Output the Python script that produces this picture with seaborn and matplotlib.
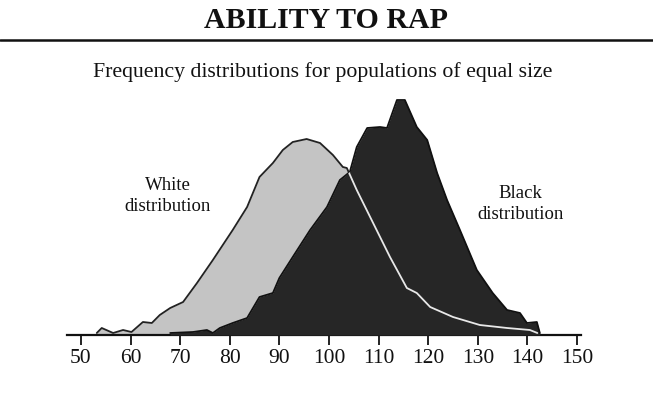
import numpy as np
import pandas as pd
import seaborn as sns
import matplotlib
matplotlib.use("Agg")
import matplotlib.pyplot as plt
from matplotlib.patches import Polygon

# Data (heights in arbitrary frequency units)
white_x = [53.2, 54.2, 56.5, 58.5, 60.2, 62.5, 64.3, 65.9, 68.0, 70.6, 73.4, 76.6,
           80.6, 83.5, 86.0, 88.7, 90.7, 92.7, 95.5, 98.2, 100.8, 102.8, 103.6,
           105.6, 108.9, 112.3, 115.7, 117.7, 120.4, 125.0, 130.4, 135.9, 140.5, 142.0]
white_y = [2, 7, 2, 5, 3, 13, 12, 20, 27, 33, 52, 75,
           105, 128, 158, 172, 185, 193, 196, 192, 180, 168, 167,
           145, 112, 78, 47, 42, 28, 18, 10, 7, 5, 2]
black_x = [68.0, 72.6, 75.4, 76.6, 78.0, 80.6, 83.5, 86.0, 88.7, 90.0, 92.7, 96.2,
           99.6, 102.2, 104.2, 105.6, 107.7, 110.3, 111.7, 113.7, 115.3, 117.7,
           119.8, 121.8, 123.8, 126.4, 129.8, 133.0, 135.9, 138.5, 139.9, 141.9, 142.5]
black_y = [2, 3, 5, 2, 7, 12, 17, 38, 42, 57, 78, 105,
           128, 155, 163, 188, 207, 208, 207, 235, 235, 208,
           195, 162, 135, 105, 65, 42, 25, 22, 12, 13, 2]
ticks = [50, 60, 70, 80, 90, 100, 110, 120, 130, 140, 150]
title = "ABILITY TO RAP"
subtitle = "Frequency distributions for populations of equal size"

sns.set_theme(style="white")
plt.rcParams['font.family'] = ['Liberation Serif', 'DejaVu Serif']

W, H = 653, 397
fig = plt.figure(figsize=(W / 100, H / 100), dpi=100)
ax = fig.add_axes([67 / W, (H - 335) / H, 514 / W, 245 / H])

wdf = pd.DataFrame({"x": white_x, "y": white_y})
bdf = pd.DataFrame({"x": black_x, "y": black_y})

# white distribution fill + dark outline
ax.fill_between(wdf["x"], 0, wdf["y"], color="#c4c4c4", linewidth=0, zorder=1)
sns.lineplot(data=wdf, x="x", y="y", color="#222222", linewidth=1.3, ax=ax,
             sort=False, zorder=2)
# black distribution on top
ax.fill_between(bdf["x"], 0, bdf["y"], color="#262626", linewidth=0, zorder=3)
sns.lineplot(data=bdf, x="x", y="y", color="#111111", linewidth=1.3, ax=ax,
             sort=False, zorder=4)
# white outline visible through black region
bpoly = Polygon(np.column_stack([[black_x[0]] + black_x + [black_x[-1]],
                                 [0] + black_y + [0]]),
                closed=True, transform=ax.transData, facecolor="none", edgecolor="none")
ax.add_patch(bpoly)
wl = ax.plot(white_x, white_y, color="#e8e8e8", linewidth=1.3, zorder=5)[0]
wl.set_clip_path(bpoly)

ax.set_xlim(47.2, 150.8)
ax.set_ylim(0, 245)
ax.set_xticks(ticks)
ax.set_xticklabels([str(t) for t in ticks], fontsize=15.5)
ax.set_yticks([])
ax.set_xlabel("")
ax.set_ylabel("")
for s in ["top", "left", "right"]:
    ax.spines[s].set_visible(False)
ax.spines["bottom"].set_linewidth(1.6)
ax.spines["bottom"].set_color("#111111")
ax.tick_params(axis="x", direction="out", length=7, width=1.3, color="#111111",
               pad=3, labelcolor="#111111", bottom=True)

ax.text(0.196, 0.568, "White\ndistribution", transform=ax.transAxes, ha="center",
        va="center", fontsize=13.5, color="#111111", linespacing=1.35)
ax.text(0.882, 0.535, "Black\ndistribution", transform=ax.transAxes, ha="center",
        va="center", fontsize=13.5, color="#111111", linespacing=1.35)

fig.text(326 / W, 1 - 21 / H, title, ha="center", va="center", fontsize=21.5,
         fontweight="bold", color="#111111")
fig.add_artist(plt.Line2D([0, 1], [1 - 40 / H, 1 - 40 / H], color="#111111",
                          linewidth=1.8, transform=fig.transFigure))
fig.text(323 / W, 1 - 72 / H, subtitle, ha="center", va="center", fontsize=15.7,
         color="#111111")

fig.savefig("out.png", dpi=100, facecolor="white")
